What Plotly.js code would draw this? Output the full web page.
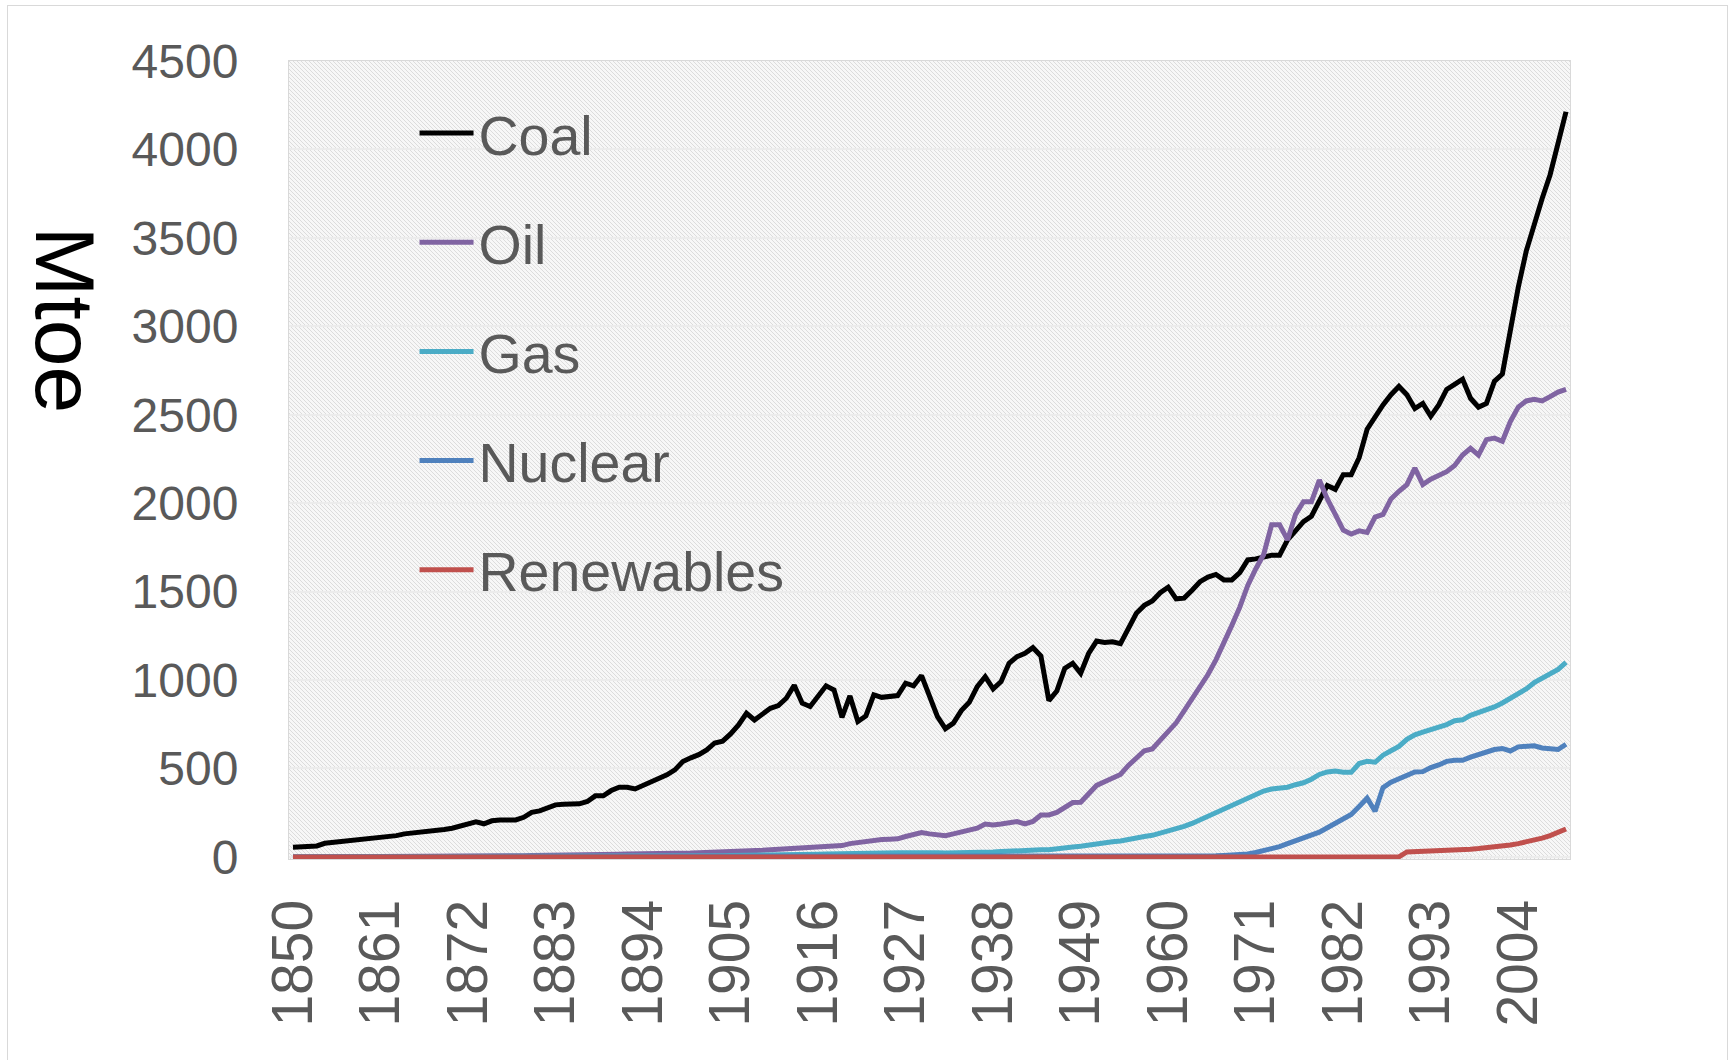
<!DOCTYPE html>
<html>
<head>
<meta charset="utf-8">
<script src="https://cdn.plot.ly/plotly-3.0.1.min.js"></script>
<style>
  html, body { margin: 0; padding: 0; background: #ffffff; }
  #wrap { position: relative; width: 1732px; height: 1060px; overflow: hidden; }
  #chart { position: absolute; left: 0; top: 0; width: 1732px; height: 1060px; }
  #frame { position: absolute; left: 7px; top: 5px; width: 1721px; height: 1100px;
           border: 1px solid #d9d9d9; pointer-events: none; box-sizing: border-box; }
</style>
</head>
<body>
<div id="wrap"><div id="chart"></div><div id="frame"></div></div>
<script>
// ---- Data (Mtoe) ----
const years = [
1850,1851,1852,1853,1854,1855,1856,1857,1858,1859,
1860,1861,1862,1863,1864,1865,1866,1867,1868,1869,
1870,1871,1872,1873,1874,1875,1876,1877,1878,1879,
1880,1881,1882,1883,1884,1885,1886,1887,1888,1889,
1890,1891,1892,1893,1894,1895,1896,1897,1898,1899,
1900,1901,1902,1903,1904,1905,1906,1907,1908,1909,
1910,1911,1912,1913,1914,1915,1916,1917,1918,1919,
1920,1921,1922,1923,1924,1925,1926,1927,1928,1929,
1930,1931,1932,1933,1934,1935,1936,1937,1938,1939,
1940,1941,1942,1943,1944,1945,1946,1947,1948,1949,
1950,1951,1952,1953,1954,1955,1956,1957,1958,1959,
1960,1961,1962,1963,1964,1965,1966,1967,1968,1969,
1970,1971,1972,1973,1974,1975,1976,1977,1978,1979,
1980,1981,1982,1983,1984,1985,1986,1987,1988,1989,
1990,1991,1992,1993,1994,1995,1996,1997,1998,1999,
2000,2001,2002,2003,2004,2005,2006,2007,2008,2009,
2010];

const coal = [
55,56,58,62,77,82,87,90,92,98,
104,108,111,120,130,134,138,143,149,155,
162,172,185,198,187,204,209,209,209,224,
252,260,275,294,298,299,300,313,345,345,
375,394,394,384,403,426,441,464,492,539,
560,578,605,644,654,695,746,812,774,808,
840,855,897,970,869,850,906,967,944,789,
910,765,797,916,902,906,912,982,967,1025,
906,793,725,756,827,874,963,1019,950,991,
1095,1132,1151,1183,1136,884,938,1066,1095,1038,
1150,1220,1212,1216,1206,1288,1377,1422,1447,1494,
1525,1459,1463,1508,1556,1582,1597,1566,1566,1607,
1679,1685,1699,1706,1706,1792,1843,1895,1926,2008,
2100,2078,2161,2161,2257,2418,2491,2555,2613,2660,
2613,2535,2564,2491,2555,2643,2672,2701,2593,2543,
2564,2689,2730,2987,3221,3425,3586,3723,3857,4038,
4213];

const oil = [
0,0,0,0,0,0,0,0,0,0,
0.5,1,1,1,1,1,2,2,2,2,
3,3,3,4,4,4,5,5,6,7,
8,8,8,9,10,10,11,11,12,13,
14,15,16,16,17,17,18,19,19,20,
22,24,25,27,29,30,30,33,35,37,
40,42,44,48,50,53,56,60,58,64,
75,81,90,96,98,100,102,115,125,137,
130,125,120,130,140,152,162,186,181,186,
194,200,186,200,237,237,251,275,307,309,
355,404,425,446,466,517,563,600,610,661,
709,758,826,892,960,1031,1114,1206,1309,1412,
1535,1628,1710,1878,1878,1792,1936,2008,2008,2131,
2024,1936,1848,1825,1843,1834,1921,1936,2024,2067,
2105,2199,2105,2135,2155,2178,2213,2272,2310,2272,
2359,2368,2350,2461,2543,2578,2587,2578,2602,2628,
2643];

const gas = [
0,0,0,0,0,0,0,0,0,0,
0,0,0,0,0,0,0,0,0,0,
0,0,0,0,0,0,0,0,0,0,
0,0,0,0,0,1,1,2,2,2,
3,3,3,3,3,4,4,4,5,5,
5,6,6,7,7,8,8,9,9,10,
11,11,12,13,13,14,15,16,16,16,
17,16,18,20,21,22,23,24,25,27,
26,24,22,22,24,25,27,29,28,30,
33,35,36,38,40,40,43,50,56,60,
68,75,80,85,90,96,105,115,122,133,
148,158,172,189,209,228,246,268,291,312,
332,353,372,384,388,394,408,419,439,466,
480,485,478,478,528,540,535,575,600,625,
665,690,705,718,728,748,770,775,800,815,
835,848,870,895,920,950,985,1010,1040,1060,
1100];

const nuclear = [
0,0,0,0,0,0,0,0,0,0,
0,0,0,0,0,0,0,0,0,0,
0,0,0,0,0,0,0,0,0,0,
0,0,0,0,0,0,0,0,0,0,
0,0,0,0,0,0,0,0,0,0,
0,0,0,0,0,0,0,0,0,0,
0,0,0,0,0,0,0,0,0,0,
0,0,0,0,0,0,0,0,0,0,
0,0,0,0,0,0,0,0,0,0,
0,0,0,0,0,0,0,0,0,0,
0,0,0,0,0,0,0.5,1,1,1,
1,2,2,3,4,5,6,8,10,12,
17,25,35,45,58,75,90,105,125,140,
165,190,210,240,285,332,258,392,422,440,
458,480,482,505,520,540,546,546,564,578,
593,607,613,599,622,622,628,616,613,607,
637];

const renewables = [
0,0,0,0,0,0,0,0,0,0,
0,0,0,0,0,0,0,0,0,0,
0,0,0,0,0,0,0,0,0,0,
0,0,0,0,0,0,0,0,0,0,
0,0,0,0,0,0,0,0,0,0,
0,0,0,0,0,0,0,0,0,0,
0,0,0,0,0,0,0,0,0,0,
0,0,0,0,0,0,0,0,0,0,
0,0,0,0,0,0,0,0,0,0,
0,0,0,0,0,0,0,0,0,0,
0,0,0,0,0,0,0,0,0,0,
0,0,0,0,0,0,0,0,0,0,
0,0,0,0,0,0,0,0,0,0,
0,0,0,0,0,0,0,0,0,0,
28,29,30,32,33,35,37,40,43,47,
51,55,61,67,75,84,95,106,120,138,
158];

const xTickYears = [1850,1861,1872,1883,1894,1905,1916,1927,1938,1949,1960,1971,1982,1993,2004];
const yTickVals = [0,500,1000,1500,2000,2500,3000,3500,4000,4500];

const seriesNames = ['Coal','Oil','Gas','Nuclear','Renewables'];
const seriesData = [coal, oil, gas, nuclear, renewables];
const seriesColors = ['#000000','#8064A2','#4BACC6','#4F81BD','#C0504D'];

// ---- Chart ----
const FONT = '"Liberation Sans", Arial, sans-serif';

const traces = seriesNames.map((name, i) => ({
  type: 'scatter',
  mode: 'lines',
  name: name,
  x: years,
  y: seriesData[i],
  legendgroup: 'g' + i,
  line: { color: seriesColors[i], width: 5, shape: 'linear' },
  hoverinfo: 'x+y+name'
}));

// hatch pattern for plot area background (Excel-style light pattern fill)
const W = 1281, H = 798;
const svg = "<svg xmlns='http://www.w3.org/2000/svg' width='" + W + "' height='" + H + "'>" +
  "<defs><pattern id='p' width='4' height='4' patternUnits='userSpaceOnUse'>" +
  "<rect width='4' height='4' fill='#f7f7f7'/>" +
  "<path d='M-1,3 l2,2 M0,0 l4,4 M3,-1 l2,2' stroke='#dcdcdc' stroke-width='1'/>" +
  "</pattern></defs><rect width='100%' height='100%' fill='url(#p)'/></svg>";
const bgImg = 'data:image/svg+xml;charset=utf-8,' + encodeURIComponent(svg);

const layout = {
  width: 1732,
  height: 1060,
  margin: { l: 289, r: 162, t: 61, b: 201, pad: 0 },
  paper_bgcolor: '#ffffff',
  plot_bgcolor: '#ebebeb',
  showlegend: true,
  font: { family: FONT, color: '#595959' },
  images: [{
    source: bgImg, xref: 'paper', yref: 'paper', x: 0, y: 1,
    sizex: 1, sizey: 1, xanchor: 'left', yanchor: 'top',
    sizing: 'stretch', layer: 'below'
  }],
  xaxis: {
    type: 'linear',
    range: [1849.5, 2010.5],
    tickmode: 'array',
    tickvals: xTickYears,
    ticktext: xTickYears.map(String),
    tickangle: -90,
    ticks: 'outside',
    ticklen: 17,
    tickcolor: 'rgba(0,0,0,0)',
    tickfont: { family: FONT, size: 57, color: '#595959' },
    showgrid: false,
    zeroline: false,
    showline: true,
    mirror: true,
    linecolor: '#d9d9d9',
    linewidth: 1,
    fixedrange: true
  },
  yaxis: {
    range: [-12, 4500],
    tickmode: 'array',
    tickvals: yTickVals,
    ticktext: yTickVals.map(String),
    ticks: 'outside',
    ticklen: 40,
    tickcolor: 'rgba(0,0,0,0)',
    tickfont: { family: FONT, size: 48, color: '#595959' },
    showgrid: true,
    gridcolor: '#ececec',
    gridwidth: 2,
    zeroline: false,
    showline: true,
    mirror: true,
    linecolor: '#d9d9d9',
    linewidth: 1,
    fixedrange: true
  },
  legend: {
    x: 0.098, y: 0.963, xanchor: 'left', yanchor: 'top',
    bgcolor: 'rgba(0,0,0,0)',
    borderwidth: 0,
    font: { family: FONT, size: 55.5, color: '#595959' },
    traceorder: 'grouped',
    tracegroupgap: 34,
    itemwidth: 54,
    itemclick: false,
    itemdoubleclick: false
  },
  annotations: [{
    text: 'Mtoe',
    xref: 'paper', yref: 'paper',
    x: -0.175, y: 0.675,
    xanchor: 'center', yanchor: 'middle',
    showarrow: false,
    textangle: 90,
    font: { family: FONT, size: 84, color: '#000000' }
  }]
};

Plotly.newPlot('chart', traces, layout, { displayModeBar: false, staticPlot: false, responsive: false });
</script>
</body>
</html>
